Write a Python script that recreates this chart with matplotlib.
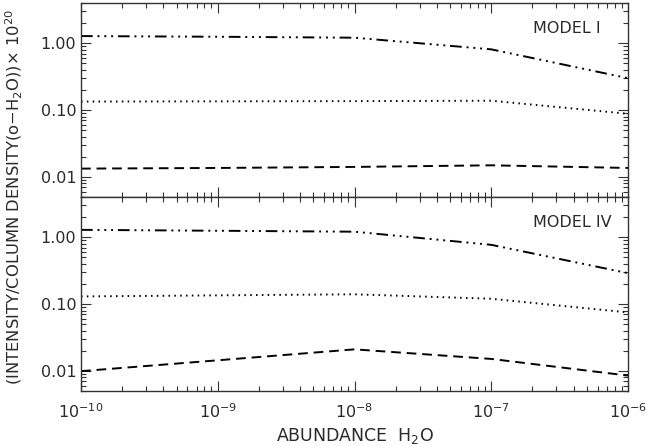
import numpy as np
import matplotlib.pyplot as plt
from matplotlib.ticker import FixedLocator, FixedFormatter, LogLocator, NullFormatter

# abundance grid
abundance = [1e-10, 1e-9, 1e-8, 1e-7, 1e-6]

# model I
m1_dashdot = [1.28, 1.25, 1.21, 0.81, 0.30]
m1_dotted = [0.134, 0.135, 0.136, 0.138, 0.088]
m1_dashed = [0.0133, 0.0136, 0.0141, 0.0149, 0.0136]

# model IV
m4_dashdot = [1.29, 1.25, 1.21, 0.77, 0.29]
m4_dotted = [0.130, 0.135, 0.140, 0.120, 0.075]
m4_dashed = [0.0099, 0.0144, 0.0210, 0.0151, 0.0085]

panels = [
    ('MODEL I', m1_dashdot, m1_dotted, m1_dashed),
    ('MODEL IV', m4_dashdot, m4_dotted, m4_dashed),
]

ytick_vals = [0.01, 0.1, 1.0]
ytick_labels = ['0.01', '0.10', '1.00']
xtick_vals = [1e-10, 1e-9, 1e-8, 1e-7, 1e-6]
xtick_labels = [r'$10^{-10}$', r'$10^{-9}$', r'$10^{-8}$', r'$10^{-7}$', r'$10^{-6}$']

plt.rcParams['font.family'] = ['DejaVu Sans']
plt.rcParams['mathtext.fontset'] = 'dejavusans'

fig = plt.figure(figsize=(6.47, 4.46), dpi=100)
left, right = 81 / 647, 628 / 647
top_y, mid_y, bot_y = 3 / 446, 197 / 446, 391 / 446
ax1 = fig.add_axes([left, 1 - mid_y, right - left, mid_y - top_y])
ax2 = fig.add_axes([left, 1 - bot_y, right - left, bot_y - mid_y])

dashdot = (0, (6, 2.5, 1, 2.5, 1, 2.5, 1, 2.5))
dotted = (0, (0.8, 2.2))
dashed = (0, (5, 3))

txt = '#2a2a2a'
for ax, (name, dd, dt, ds) in zip([ax1, ax2], panels):
    ax.plot(abundance, dd, color='black', lw=1.4, linestyle=dashdot)
    ax.plot(abundance, dt, color='black', lw=1.4, linestyle=dotted)
    ax.plot(abundance, ds, color='black', lw=1.4, linestyle=dashed)
    ax.set_xscale('log')
    ax.set_yscale('log')
    ax.set_xlim(1e-10, 1e-6)
    ax.set_ylim(0.005, 4.0)
    ax.yaxis.set_major_locator(FixedLocator(ytick_vals))
    ax.yaxis.set_major_formatter(FixedFormatter(ytick_labels))
    ax.yaxis.set_minor_locator(LogLocator(base=10, subs=np.arange(2, 10)))
    ax.yaxis.set_minor_formatter(NullFormatter())
    ax.xaxis.set_major_locator(FixedLocator(xtick_vals))
    ax.xaxis.set_minor_locator(LogLocator(base=10, subs=np.arange(2, 10)))
    ax.xaxis.set_minor_formatter(NullFormatter())
    ax.tick_params(which='both', direction='in', top=True, right=True,
                   colors='#333333', labelcolor=txt, labelsize=11.5)
    ax.tick_params(which='major', length=7, width=0.8)
    ax.tick_params(which='minor', length=3.5, width=0.8)
    for s in ax.spines.values():
        s.set_color('#333333')
        s.set_linewidth(1.0)
    ax.text((533 - 81) / 547, 0.87, name, transform=ax.transAxes, ha='left',
            va='center', fontsize=11.5, color=txt)

ax1.xaxis.set_major_formatter(NullFormatter())
ax2.xaxis.set_major_formatter(FixedFormatter(xtick_labels))
ax2.tick_params(axis='x', pad=8)
ax2.set_xlabel(r'ABUNDANCE  H$_2$O', fontsize=12.5, color=txt, labelpad=4)
fig.text(0.022, 1 - mid_y, r'(INTENSITY/COLUMN DENSITY(o$-$H$_2$O))$\times$ 10$^{20}$',
         rotation=90, ha='center', va='center', fontsize=11.8, color=txt)

fig.savefig('out.png', dpi=100)
